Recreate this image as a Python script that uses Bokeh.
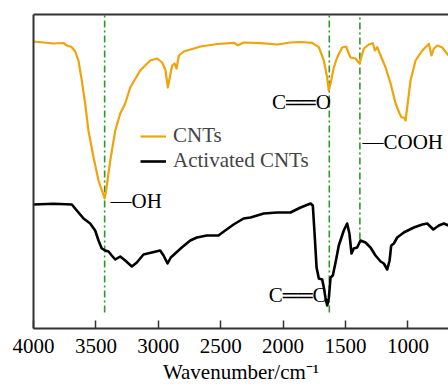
from bokeh.plotting import figure
from bokeh.models import Range1d, FixedTicker, LinearAxis, Legend, LegendItem, ColumnDataSource
from bokeh.core.properties import value
from bokeh.embed import file_html
from bokeh.resources import INLINE

# Wavenumbers (cm^-1) and relative transmittance (arbitrary units)
cnt_wn = [4000, 3840, 3760, 3733, 3695, 3666, 3640, 3613, 3586, 3560, 3519, 3479, 3430, 3418,
          3385, 3345, 3305, 3265, 3225, 3145, 3065, 3009, 2969, 2942, 2924, 2908, 2889, 2870,
          2854, 2835, 2796, 2662, 2528, 2395, 2363, 2315, 2181, 2047, 1941, 1860, 1767, 1714,
          1674, 1647, 1634, 1615, 1594, 1567, 1527, 1495, 1474, 1460, 1420, 1388, 1374, 1353,
          1313, 1281, 1265, 1246, 1219, 1179, 1139, 1099, 1067, 1051, 1033, 1019, 1006, 979,
          939, 885, 845, 832, 811, 792, 765, 725, 675]
cnt_t = [287, 285, 285.5, 283, 281.5, 277, 268, 248, 225, 198, 171, 148, 130, 138,
         168, 198, 215, 225, 241, 258, 268, 270, 266, 258, 241, 251, 263, 265,
         260, 273, 277, 282, 284.5, 285.7, 283.3, 286, 285.3, 284, 286, 286.5, 285.7, 281.3,
         268, 251, 238, 248, 261, 271, 281, 282, 275, 271, 270, 265, 271, 280,
         284, 285.3, 278, 281.3, 273, 261, 245, 225, 215, 211, 211, 208, 221, 248,
         268, 278, 283, 284.7, 273, 280, 283, 281, 273]

act_wn = [4000, 3840, 3693, 3653, 3599, 3546, 3506, 3479, 3453, 3426, 3399, 3373, 3345, 3305,
          3265, 3212, 3172, 3119, 3052, 2985, 2958, 2926, 2900, 2865, 2812, 2744, 2691, 2611,
          2518, 2464, 2397, 2317, 2261, 2155, 2047, 1941, 1860, 1780, 1762, 1748, 1732, 1714,
          1687, 1674, 1661, 1647, 1634, 1620, 1602, 1580, 1554, 1514, 1487, 1469, 1452, 1434,
          1407, 1380, 1340, 1300, 1260, 1219, 1193, 1166, 1147, 1134, 1113, 1086, 1033, 953,
          885, 845, 797, 752, 712, 675]
act_t = [124, 124.7, 124, 118, 110, 105, 98, 88, 80, 78, 77, 73, 69, 72,
         68, 62, 66, 74, 76, 78, 73, 65, 71, 75, 81, 88, 91, 93,
         93, 98, 104, 110, 111, 115, 116, 116, 121, 125, 123, 95, 61, 50,
         49, 41, 31, 23, 30, 51, 53, 66, 83, 98, 105, 95, 75, 80,
         81, 88, 86, 81, 73, 67, 65, 59, 68, 83, 85, 91, 96, 101,
         104, 105, 99, 103, 105, 103]

# Marker lines for the assigned bands
mark_wn = [3430, 1630, 1385]
mark_top = [314, 314, 314]
mark_bottom = [16, 16, 89]

# Band labels and their anchor positions
band_text = ["\u2014OH", "C\u2550\u2550O", "\u2014COOH", "C\u2550\u2550C"]
band_wn = [3383, 2090, 1364, 2115]
band_t = [128, 227, 187, 34]

ticks = [4000, 3500, 3000, 2500, 2000, 1500, 1000]

FONT = "Liberation Serif"
FS = "21px"
AXIS_COLOR = "#333333"
ORANGE = "#F0A30A"
GREEN = "#2b9a2b"

p = figure(width=448, height=392, output_backend="svg", toolbar_location=None, title=None,
           x_range=Range1d(4000, 675), y_range=Range1d(0, 314))
p.min_border_left = 33
p.min_border_right = 0
p.min_border_top = 14
p.min_border_bottom = 64
p.outline_line_color = None
p.xgrid.visible = False
p.ygrid.visible = False
p.background_fill_color = "white"
p.border_fill_color = "white"

xa = p.xaxis[0]
xa.ticker = FixedTicker(ticks=ticks)
xa.minor_tick_line_color = None
xa.major_tick_in = 8
xa.major_tick_out = 0
xa.major_tick_line_width = 1.5
xa.major_tick_line_color = AXIS_COLOR
xa.axis_line_color = AXIS_COLOR
xa.axis_line_width = 2
xa.major_label_text_font = FONT
xa.major_label_text_font_size = FS
xa.major_label_text_color = "black"
xa.major_label_standoff = 10
xa.axis_label = "Wavenumber/cm\u207b\u00b9"
xa.axis_label_text_font = FONT
xa.axis_label_text_font_size = FS
xa.axis_label_text_font_style = "normal"
xa.axis_label_text_color = "black"
xa.axis_label_standoff = 4

ya = p.yaxis[0]
ya.ticker = FixedTicker(ticks=[])
ya.minor_tick_line_color = None
ya.major_tick_line_color = None
ya.axis_line_color = AXIS_COLOR
ya.axis_line_width = 2

top = LinearAxis(ticker=FixedTicker(ticks=[]), axis_line_color=AXIS_COLOR, axis_line_width=2,
                 major_tick_line_color=None, minor_tick_line_color=None)
p.add_layout(top, "above")

# green dash-dot marker lines
p.segment(x0=mark_wn, x1=mark_wn, y0=mark_bottom, y1=mark_top, line_color=GREEN,
          line_width=1.6, line_dash="7 3 2 3")

r1 = p.line(cnt_wn, cnt_t, line_color=ORANGE, line_width=2.2, line_join="round")
r2 = p.line(act_wn, act_t, line_color="black", line_width=2.6, line_join="round")

src = ColumnDataSource(dict(x=band_wn, y=band_t, t=band_text))
p.text(x="x", y="y", text="t", source=src, text_font=value(FONT), text_font_size=FS,
       text_align="left", text_baseline="middle", text_color="black")

legend = Legend(items=[LegendItem(label="CNTs", renderers=[r1]),
                       LegendItem(label="Activated CNTs", renderers=[r2])],
                location=(107, 155), padding=0, spacing=0, glyph_width=26, glyph_height=20,
                label_height=20, label_standoff=7, border_line_color=None,
                background_fill_alpha=0, label_text_font=FONT, label_text_font_size=FS)
p.add_layout(legend, "center")

open("out.html", "w").write(file_html(p, INLINE))
